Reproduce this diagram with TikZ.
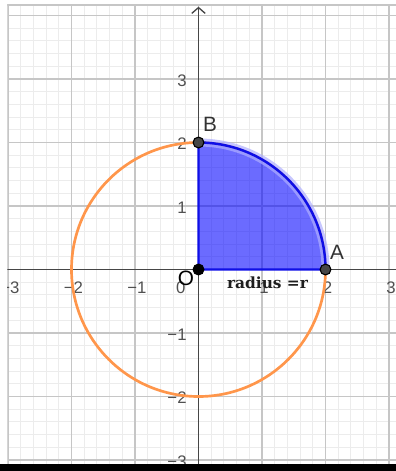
\documentclass[tikz,border=0pt]{standalone}
\usepackage{fontspec}
\setmainfont{Liberation Serif}
\setsansfont{Liberation Sans}
\newfontfamily\radiusfont{DejaVu Serif}
\usetikzlibrary{arrows.meta}
\definecolor{minorgrid}{RGB}{236,236,236}
\definecolor{majorgrid}{RGB}{198,198,198}
\definecolor{axisgray}{RGB}{70,70,70}
\definecolor{ticklab}{RGB}{80,80,80}
\definecolor{lblgray}{RGB}{50,50,50}
\definecolor{circorange}{RGB}{255,150,75}
\definecolor{sectfill}{RGB}{0,0,255}
\definecolor{sectedge}{RGB}{15,15,230}
\definecolor{halo}{RGB}{175,175,255}
\definecolor{ptgray}{RGB}{70,70,70}
\definecolor{radtext}{RGB}{30,30,30}
\begin{document}
\begin{tikzpicture}[x=1cm,y=1cm,
  ticklabel/.style={font=\sffamily\fontsize{7.5pt}{8pt}\selectfont, text=ticklab, inner sep=0pt},
  ptlabel/.style={font=\sffamily\fontsize{9.3pt}{10pt}\selectfont, text=lblgray, inner sep=0pt},
  ptdot/.style={circle, draw=black, line width=0.5pt, minimum size=0.17cm, inner sep=0pt},
  edgeline/.style={sectedge, line width=1.1pt, line join=round},
]
\useasboundingbox (-3.126,-3.173) rectangle (3.110,4.244);
\coordinate (O) at (0,0);
\coordinate (A) at (2,0);
\coordinate (B) at (0,2);
\coordinate (ytop) at (0,4.139);
\coordinate (ybot) at (0,-3.2);
\coordinate (xleft) at (-3.2,0);
\coordinate (xright) at (3.2,0);
\begin{scope}
  \clip (-3.008,-3.2) rectangle (3.2,4.172);
  % grid
  \draw[minorgrid, line width=0.45pt, step=0.2] (-3.2,-3.2) grid (3.2,4.2);
  \draw[majorgrid, line width=0.5pt, step=1] (-3.2,-3.2) grid (3.2,4.2);
  \draw[majorgrid, line width=0.6pt] (-3.2,4.165) -- (3.2,4.165);
  % tick labels
  \foreach \i/\t in {-3/−3,-2/−2,-1/−1,1/1,2/2,3/3}
    \node[ticklabel] (xt\i) at (\i+0.03,-0.283) {\t};
  \foreach \j/\t in {-3/−3,-2/−2,-1/−1,1/1,2/2,3/3}
    \node[ticklabel, anchor=east] (yt\j) at (-0.181,\j-0.02) {\t};
  \node[ticklabel, anchor=east] (zt) at (-0.197,-0.283) {0};
  % axes
  \draw[axisgray, line width=0.6pt] (xleft) -- (xright);
  \draw[axisgray, line width=0.6pt, -{Straight Barb[length=2.6pt,width=6pt]}] (ybot) -- (ytop);
  % circle
  \draw[circorange, line width=1.2pt] (O) circle[radius=2];
  % sector
  \fill[sectfill, fill opacity=0.58] (O) -- (A) arc[start angle=0, end angle=90, radius=2] -- cycle;
  \draw[halo, line width=3.6pt, opacity=0.7] (A) arc[start angle=0, end angle=90, radius=2];
  \draw[edgeline] (B) -- (O) -- (A) arc[start angle=0, end angle=90, radius=2];
  % points
  \node[ptdot, fill=black] (Odot) at (O) {};
  \node[ptdot, fill=ptgray] (Adot) at (A) {};
  \node[ptdot, fill=ptgray] (Bdot) at (B) {};
  % labels
  \node[ptlabel, text=black] (Olab) at (-0.197,-0.134) {O};
  \node[ptlabel] (Alab) at (2.181,0.276) {A};
  \node[ptlabel] (Blab) at (0.181,2.291) {B};
  \node[anchor=base, inner sep=0pt, text=radtext, font=\radiusfont\bfseries\fontsize{6.9pt}{7pt}\selectfont] (rad) at (1.087,-0.302) {radius =r};
\end{scope}
% bottom bar
\fill[black] (-3.2,-3.063) rectangle (3.2,-3.2);
\end{tikzpicture}
\end{document}
